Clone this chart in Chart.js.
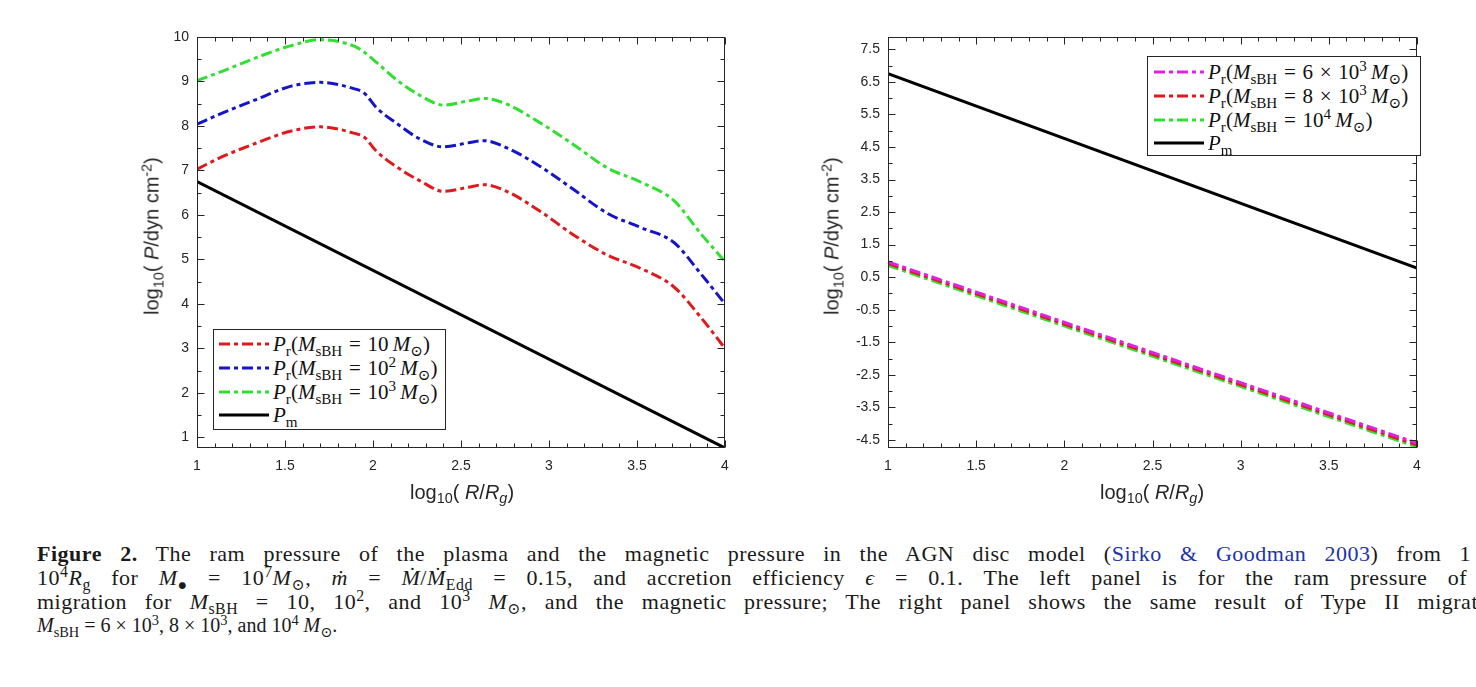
<!DOCTYPE html>
<html>
<head>
<meta charset="utf-8">
<script src="https://cdn.jsdelivr.net/npm/chart.js@4.4.1/dist/chart.umd.min.js"></script>
<style>
  html, body { margin:0; padding:0; background:#fff; }
  body { width:1476px; height:687px; position:relative; overflow:hidden; }
  .wrap { position:absolute; }
  sub { font-size:0.72em; vertical-align:-0.32em; line-height:0; }
  sup { font-size:0.72em; vertical-align:0.5em; line-height:0; }
  .legend { position:absolute; background:#fff; border:1px solid #262626; box-sizing:border-box;
            font-family:"Liberation Serif", "DejaVu Serif", serif; font-size:21px; color:#111; }
  .legend .row { position:absolute; left:0; height:22px; display:flex; align-items:center; white-space:nowrap; }
  .legend svg { display:block; margin-right:4px; }
  .legend .op { margin:0 0.32em; }
  .legend .sp { margin-left:0.2em; }
  .axt { position:absolute; font-family:"Liberation Sans", Arial, sans-serif; font-size:20px; color:#262626; white-space:nowrap; }
  .cap { position:absolute; left:37px; font-family:"Liberation Serif", "DejaVu Serif", serif; font-size:20px; line-height:24px;
         color:#1a1a1a; white-space:nowrap; }
  .cap.prose { font-size:22px; }
  .cap.prose span { letter-spacing:0.5px; }
  .cap a { color:#2233aa; text-decoration:none; }
</style>
</head>
<body>
<div class="wrap" style="left:130px;top:20px;width:610px;height:470px"><canvas id="cl" width="610" height="470"></canvas></div>
<div class="wrap" style="left:820px;top:20px;width:620px;height:470px"><canvas id="cr" width="620" height="470"></canvas></div>

<!-- axis titles -->
<div class="axt" style="left:462px;top:492px;transform:translate(-50%,-50%)">log<sub>10</sub>( <i>R</i>/<i>R<sub>g</sub></i>)</div>
<div class="axt" style="left:1152px;top:492px;transform:translate(-50%,-50%)">log<sub>10</sub>( <i>R</i>/<i>R<sub>g</sub></i>)</div>
<div class="axt" style="left:152px;top:236px;transform:translate(-50%,-50%) rotate(-90deg)">log<sub>10</sub>( <i>P</i>/dyn cm<sup>-2</sup>)</div>
<div class="axt" style="left:832px;top:236px;transform:translate(-50%,-50%) rotate(-90deg)">log<sub>10</sub>( <i>P</i>/dyn cm<sup>-2</sup>)</div>

<div id="legL" class="legend" style="left:213px;top:329px;width:233px;height:101px"></div>
<div id="legR" class="legend" style="left:1147px;top:56px;width:274px;height:100px"></div>

<div class="cap prose" style="top:542px" data-target="1434"><span><b>Figure 2.</b> The ram pressure of the plasma and the magnetic pressure in the AGN disc model (<a>Sirko &amp; Goodman 2003</a>) from 1</span></div>
<div class="cap prose" style="top:566px" data-target="1430"><span>10<sup>4</sup><i>R</i><sub>g</sub> for <i>M</i><sub>●</sub> = 10<sup>7</sup><i>M</i><sub>⊙</sub>, <i>ṁ</i> = <i>Ṁ</i>/<i>Ṁ</i><sub>Edd</sub> = 0.15, and accretion efficiency <i>ϵ</i> = 0.1. The left panel is for the ram pressure of</span></div>
<div class="cap prose" style="top:590px" data-target="1441"><span>migration for <i>M</i><sub>sBH</sub> = 10, 10<sup>2</sup>, and 10<sup>3</sup> <i>M</i><sub>⊙</sub>, and the magnetic pressure; The right panel shows the same result of Type II migrat</span></div>
<div class="cap" style="top:613px"><span><i>M</i><sub>sBH</sub> = 6 × 10<sup>3</sup>, 8 × 10<sup>3</sup>, and 10<sup>4</sup> <i>M</i><sub>⊙</sub>.</span></div>

<script>
// ---------------- DATA ----------------
// Left panel: Type I migration
const xLeft = [1, 1.15, 1.34, 1.53, 1.70, 1.89, 1.95, 2.02, 2.13, 2.27, 2.40, 2.54, 2.63, 2.76, 2.95, 3.14, 3.33, 3.52, 3.71, 3.86, 4.0];
const prM10   = [7.03, 7.32, 7.62, 7.88, 7.98, 7.84, 7.75, 7.43, 7.09, 6.76, 6.53, 6.62, 6.68, 6.53, 6.08, 5.55, 5.10, 4.80, 4.38, 3.71, 3.00];
const prM100  = [8.04, 8.30, 8.60, 8.89, 8.98, 8.84, 8.74, 8.41, 8.07, 7.70, 7.53, 7.62, 7.67, 7.51, 7.09, 6.57, 6.04, 5.72, 5.38, 4.69, 4.00];
const prM1000 = [9.02, 9.24, 9.54, 9.80, 9.94, 9.80, 9.66, 9.43, 9.05, 8.68, 8.47, 8.56, 8.62, 8.49, 8.07, 7.58, 7.06, 6.74, 6.32, 5.59, 4.95];
const xPm = [1, 4];
const pmLeft = [6.75, 0.76];

// Right panel: Type II migration
const xRight = [1, 4];
const prM6e3 = [0.97, -4.60];
const prM8e3 = [0.92, -4.66];
const prM1e4 = [0.86, -4.72];
const pmRight = [6.75, 0.78];

// Tick labels
const xTickVals = [1, 1.5, 2, 2.5, 3, 3.5, 4];
const yTickValsL = [1, 2, 3, 4, 5, 6, 7, 8, 9, 10];
const yTickValsR = [7.5, 6.5, 5.5, 4.5, 3.5, 2.5, 1.5, 0.5, -0.5, -1.5, -2.5, -3.5, -4.5];

const labelsLeft = [
  '<i>P</i><sub>r</sub>(<i>M</i><sub>sBH</sub><span class="op">=</span>10<i class="sp">M</i><sub>⊙</sub>)',
  '<i>P</i><sub>r</sub>(<i>M</i><sub>sBH</sub><span class="op">=</span>10<sup>2</sup><i class="sp">M</i><sub>⊙</sub>)',
  '<i>P</i><sub>r</sub>(<i>M</i><sub>sBH</sub><span class="op">=</span>10<sup>3</sup><i class="sp">M</i><sub>⊙</sub>)',
  '<i>P</i><sub>m</sub>'
];
const labelsRight = [
  '<i>P</i><sub>r</sub>(<i>M</i><sub>sBH</sub><span class="op">=</span>6<span class="op">×</span>10<sup>3</sup><i class="sp">M</i><sub>⊙</sub>)',
  '<i>P</i><sub>r</sub>(<i>M</i><sub>sBH</sub><span class="op">=</span>8<span class="op">×</span>10<sup>3</sup><i class="sp">M</i><sub>⊙</sub>)',
  '<i>P</i><sub>r</sub>(<i>M</i><sub>sBH</sub><span class="op">=</span>10<sup>4</sup><i class="sp">M</i><sub>⊙</sub>)',
  '<i>P</i><sub>m</sub>'
];

// ---------------- STYLE ----------------
const RED = '#e01a1c', BLUE = '#1414c8', GREEN = '#30e030', MAGENTA = '#e022e0', BLACK = '#000000';
const DASH = [11, 4, 4, 4];
const AXC = '#262626';

function pts(xs, ys) { return xs.map((x, i) => ({ x: x, y: ys[i] })); }
function ds(xs, ys, color, dashed) {
  return { data: pts(xs, ys), borderColor: color, backgroundColor: color, borderWidth: 3,
           borderDash: dashed ? DASH : [], pointRadius: 0, fill: false,
           cubicInterpolationMode: 'monotone' };
}

function range(a, b, step) { const r = []; for (let v = a; v <= b + 1e-9; v += step) r.push(Math.round(v * 1000) / 1000); return r; }

const framePlugin = {
  id: 'frame',
  afterDraw(chart, args, o) {
    const { ctx, chartArea: a, scales: { x, y } } = chart;
    ctx.save();
    ctx.strokeStyle = AXC; ctx.lineWidth = 1;
    const L = Math.round(a.left) + 0.5, R = Math.round(a.right) - 0.5, T = Math.round(a.top) + 0.5, B = Math.round(a.bottom) - 0.5;
    ctx.strokeRect(L, T, R - L, B - T);
    ctx.beginPath();
    const xt = (v, len) => { const p = Math.round(x.getPixelForValue(v)) + 0.5; ctx.moveTo(p, B); ctx.lineTo(p, B - len); ctx.moveTo(p, T); ctx.lineTo(p, T + len); };
    const yt = (v, len) => { const p = Math.round(y.getPixelForValue(v)) + 0.5; ctx.moveTo(L, p); ctx.lineTo(L + len, p); ctx.moveTo(R, p); ctx.lineTo(R - len, p); };
    o.xMinor.forEach(v => xt(v, 4)); o.xMajor.forEach(v => xt(v, 7));
    o.yMinor.forEach(v => yt(v, 4)); o.yMajor.forEach(v => yt(v, 7));
    ctx.stroke();
    ctx.restore();
  }
};

function makeChart(id, datasets, yMin, yMax, yTicks, yMinor, padRight, yWidth, fmt) {
  const tickFont = { family: '"Liberation Sans", Arial, sans-serif', size: 14 };
  return new Chart(document.getElementById(id), {
    type: 'line',
    data: { datasets: datasets },
    options: {
      responsive: false, animation: false, devicePixelRatio: 1,
      layout: { padding: { top: 17, right: padRight, left: 0, bottom: 0 } },
      plugins: { legend: { display: false }, tooltip: { enabled: false },
                 frame: { xMajor: xTickVals, xMinor: range(1, 4, 0.1).filter(v => !xTickVals.includes(v)),
                          yMajor: yTicks, yMinor: yMinor } },
      scales: {
        x: { type: 'linear', min: 1, max: 4,
             afterBuildTicks: s => { s.ticks = xTickVals.map(v => ({ value: v })); },
             afterFit: s => { s.height = 42; },
             grid: { display: false, drawTicks: false, tickLength: 0 }, border: { display: false },
             ticks: { color: AXC, font: tickFont, padding: 10, autoSkip: false, maxRotation: 0, callback: v => String(v) } },
        y: { type: 'linear', min: yMin, max: yMax,
             afterBuildTicks: s => { s.ticks = yTicks.map(v => ({ value: v })); },
             afterFit: s => { s.width = yWidth; },
             grid: { display: false, drawTicks: false, tickLength: 0 }, border: { display: false },
             ticks: { color: AXC, font: tickFont, padding: 8, autoSkip: false, callback: fmt } }
      }
    },
    plugins: [framePlugin]
  });
}

makeChart('cl', [
  ds(xLeft, prM10, RED, true),
  ds(xLeft, prM100, BLUE, true),
  ds(xLeft, prM1000, GREEN, true),
  ds(xPm, pmLeft, BLACK, false)
], 0.76, 10, yTickValsL, range(1.5, 9.5, 1), 15, 67, v => String(v));

makeChart('cr', [
  ds(xRight, prM6e3, MAGENTA, true),
  ds(xRight, prM8e3, RED, true),
  ds(xRight, prM1e4, GREEN, true),
  ds(xRight, pmRight, BLACK, false)
], -4.75, 7.88, yTickValsR, range(-4, 7, 1), 23, 68, v => v.toFixed(1));

function buildLegend(id, labels, colors, dashed, lineLeft, rowTops) {
  const el = document.getElementById(id);
  labels.forEach((lab, i) => {
    const row = document.createElement('div');
    row.className = 'row';
    row.style.top = rowTops[i] + 'px';
    row.style.left = lineLeft + 'px';
    const da = dashed[i] ? 'stroke-dasharray="11 4 4 4"' : '';
    row.innerHTML = '<svg width="50" height="6"><line x1="0" y1="3" x2="50" y2="3" stroke="' + colors[i] + '" stroke-width="3" ' + da + '/></svg><span>' + lab + '</span>';
    el.appendChild(row);
  });
}
buildLegend('legL', labelsLeft, [RED, BLUE, GREEN, BLACK], [true, true, true, false], 5, [3, 27, 51, 74]);
buildLegend('legR', labelsRight, [MAGENTA, RED, GREEN, BLACK], [true, true, true, false], 6, [4, 28, 52, 75]);

// justify caption lines like the typeset original
function fitCaption() {
  document.querySelectorAll('.cap[data-target]').forEach(div => {
    const span = div.querySelector('span');
    const target = parseFloat(div.dataset.target);
    const w = span.getBoundingClientRect().width;
    const spaces = (span.textContent.match(/ /g) || []).length;
    if (spaces > 0) span.style.wordSpacing = ((target - w) / spaces) + 'px';
  });
}
if (document.fonts && document.fonts.ready) document.fonts.ready.then(fitCaption); else fitCaption();
</script>
</body>
</html>
